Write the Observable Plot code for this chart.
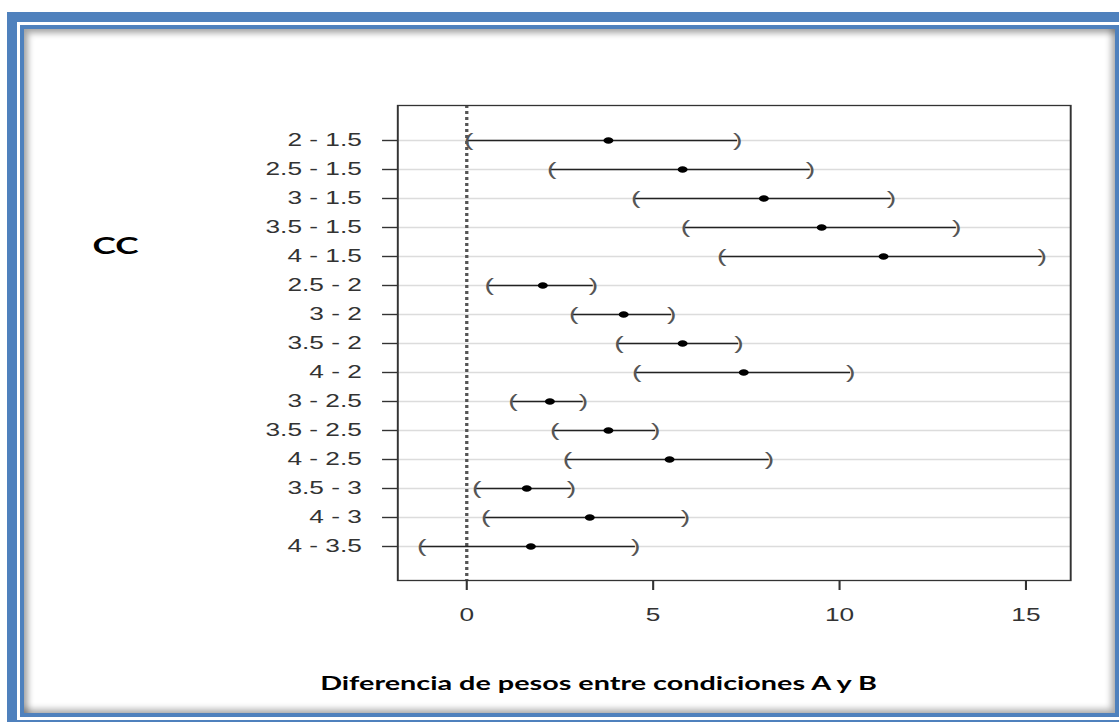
<!DOCTYPE html>
<html>
<head>
<meta charset="utf-8">
<script src="https://cdn.jsdelivr.net/npm/d3@7"></script>
<script src="https://cdn.jsdelivr.net/npm/@observablehq/plot@0.6"></script>
<style>
  html, body { margin: 0; padding: 0; width: 1119px; height: 722px; overflow: hidden; background: #fff; }
  #outer { position: absolute; left: 7px; top: 12px; width: 1200px; height: 800px; background: #4F81BD; }
  #inner { position: absolute; left: 20px; top: 25px; width: 1091px; height: 684px; border: 4px solid #4F81BD;
           outline: 3px solid #fff; background: #fff;
           box-shadow: inset 4px 4px 6px rgba(0,0,0,0.35), inset -4px -4px 6px rgba(0,0,0,0.3); }
  #stage { position: absolute; left: 0; top: 0; width: 746px; height: 722px; transform: scaleX(1.5); transform-origin: 0 0; }
  #stage svg { position: absolute; left: 0; top: 0; }
  .lbl { position: absolute; white-space: nowrap; text-align: center; font-weight: bold; color: #000; }
  #cc { left: 27px; width: 100px; top: 234px; font: bold 23.5px/23px Lato, "Open Sans", sans-serif; }
  #xlab { left: 99px; width: 600px; top: 672px; font: bold 19.2px/22px Lato, "Open Sans", sans-serif; }
</style>
</head>
<body>
<div id="outer"></div>
<div id="inner"></div>
<div id="stage">
  <div id="chart"></div>
  <div class="lbl" id="cc">CC</div>
  <div class="lbl" id="xlab">Diferencia de pesos entre condiciones A y B</div>
</div>
<script>
const comparisons = ["2 - 1.5", "2.5 - 1.5", "3 - 1.5", "3.5 - 1.5", "4 - 1.5", "2.5 - 2", "3 - 2", "3.5 - 2", "4 - 2", "3 - 2.5", "3.5 - 2.5", "4 - 2.5", "3.5 - 3", "4 - 3", "4 - 3.5"];
const diff = [3.80, 5.79, 7.97, 9.52, 11.18, 2.04, 4.21, 5.79, 7.43, 2.23, 3.80, 5.44, 1.61, 3.30, 1.72];
const lwr  = [0.05, 2.28, 4.53, 5.87, 6.84, 0.60, 2.87, 4.08, 4.56, 1.24, 2.36, 2.70, 0.27, 0.51, -1.21];
const upr  = [7.27, 9.22, 11.39, 13.14, 15.44, 3.40, 5.50, 7.30, 10.30, 3.13, 5.07, 8.12, 2.81, 5.87, 4.53];
const xTicks = [0, 5, 10, 15];
const xDomain = [-1.85, 16.2];

const rows = comparisons.map((c, i) => ({comp: c, diff: diff[i], lwr: lwr[i], upr: upr[i]}));

const chart = Plot.plot({
  width: 746,
  height: 722,
  marginLeft: 264.7,
  marginRight: 32.7,
  marginTop: 105,
  marginBottom: 142,
  style: {background: "transparent", fontFamily: "'Liberation Sans', Arial, sans-serif", fontSize: "17.5px", color: "#333", overflow: "visible"},
  x: {domain: xDomain, label: null},
  y: {type: "point", domain: comparisons, padding: 1.08, label: null},
  marks: [
    Plot.ruleY(comparisons, {stroke: "#dcdcdc", strokeWidth: 1.5}),
    Plot.ruleX([0], {stroke: "#555", strokeWidth: 2.2, strokeDasharray: "3,3"}),
    Plot.ruleY(rows, {y: "comp", x1: "lwr", x2: "upr", stroke: "#222", strokeWidth: 1.4}),
    Plot.text(rows, {x: "lwr", y: "comp", text: d => "(", fontSize: 19, fill: "#555", dy: -1}),
    Plot.text(rows, {x: "upr", y: "comp", text: d => ")", fontSize: 19, fill: "#555", dy: -1}),
    Plot.dot(rows, {x: "diff", y: "comp", r: 3.3, fill: "#000", stroke: null}),
    Plot.axisY({tickSize: 10, tickPadding: 14, strokeWidth: 1.4}),
    Plot.axisX({ticks: xTicks, tickSize: 10, tickPadding: 18, strokeWidth: 1.4}),
    Plot.frame({stroke: "#333", strokeWidth: 1.3})
  ]
});
document.getElementById("chart").appendChild(chart);
</script>
</body>
</html>
